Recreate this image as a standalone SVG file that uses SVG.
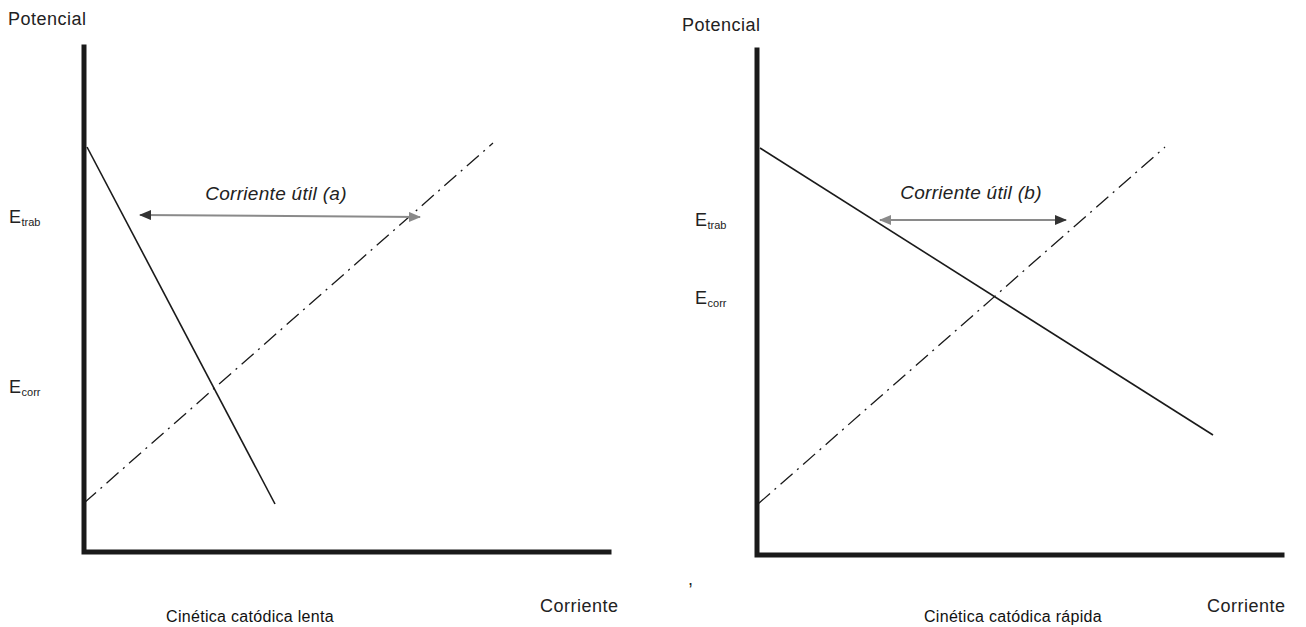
<svg xmlns="http://www.w3.org/2000/svg" width="1306" height="627" viewBox="0 0 1306 627">
<style>
text{font-family:"Liberation Sans",Arial,sans-serif;fill:#222;}
.lbl{font-size:18px;letter-spacing:0.5px;}
.sub{font-size:11px;letter-spacing:0;}
.it{font-size:19px;font-style:italic;letter-spacing:0.3px;}
.title{font-size:16px;fill:#111;letter-spacing:0.3px;}
.axis{stroke:#1a1a1a;stroke-width:5;fill:none;stroke-linecap:square;}
.cat{stroke:#1a1a1a;stroke-width:1.6;fill:none;}
.an{stroke:#1a1a1a;stroke-width:1.3;fill:none;stroke-dasharray:16 6 2 6;}
.arr{stroke:#8a8a8a;stroke-width:2;fill:none;}
</style>
<defs>
<marker id="ah" viewBox="0 0 12 10" refX="11" refY="5" markerWidth="12" markerHeight="10" markerUnits="userSpaceOnUse" orient="auto-start-reverse">
<path d="M0,0 L12,5 L0,10 Z" fill="#8a8a8a"/>
</marker>
<marker id="ahd" viewBox="0 0 12 10" refX="11" refY="5" markerWidth="12" markerHeight="10" markerUnits="userSpaceOnUse" orient="auto-start-reverse">
<path d="M0,0 L12,5 L0,10 Z" fill="#333"/>
</marker>
</defs>
<rect width="1306" height="627" fill="#fff"/>
<g id="panel-a">
<g id="axes-a">
<path class="axis" d="M84,47 V552 H609"/>
</g>
<text class="lbl" x="8" y="25">Potencial</text>
<text class="lbl" x="540" y="612">Corriente</text>
<text class="lbl" x="9" y="223">E<tspan class="sub" dy="3">trab</tspan></text>
<text class="lbl" x="9" y="393">E<tspan class="sub" dy="3">corr</tspan></text>
<text class="title" x="250" y="622" text-anchor="middle">Cinética catódica lenta</text>
<text class="it" x="276" y="200" text-anchor="middle">Corriente útil (a)</text>
</g>
<g id="panel-b">
<g id="axes-b">
<path class="axis" d="M757,50 V555 H1282"/>
</g>
<text class="lbl" x="682" y="31">Potencial</text>
<text class="lbl" x="1207" y="612">Corriente</text>
<text class="lbl" x="695" y="226">E<tspan class="sub" dy="3">trab</tspan></text>
<text class="lbl" x="695" y="304">E<tspan class="sub" dy="3">corr</tspan></text>
<text class="title" x="1013" y="622" text-anchor="middle">Cinética catódica rápida</text>
<text class="it" x="971" y="199" text-anchor="middle">Corriente útil (b)</text>
<text class="lbl" x="688" y="585">,</text>
</g>
<g id="connectors">
<line class="cat" x1="87" y1="147" x2="275" y2="504"/>
<line class="an" x1="84" y1="503" x2="493" y2="143"/>
<line class="arr" x1="140" y1="215" x2="420" y2="217" marker-start="url(#ahd)" marker-end="url(#ah)"/>
<line class="cat" x1="760" y1="148" x2="1213" y2="435"/>
<line class="an" x1="758" y1="504" x2="1165" y2="147"/>
<line class="arr" x1="880" y1="220" x2="1066" y2="220" marker-start="url(#ah)" marker-end="url(#ahd)"/>
</g>
</svg>
